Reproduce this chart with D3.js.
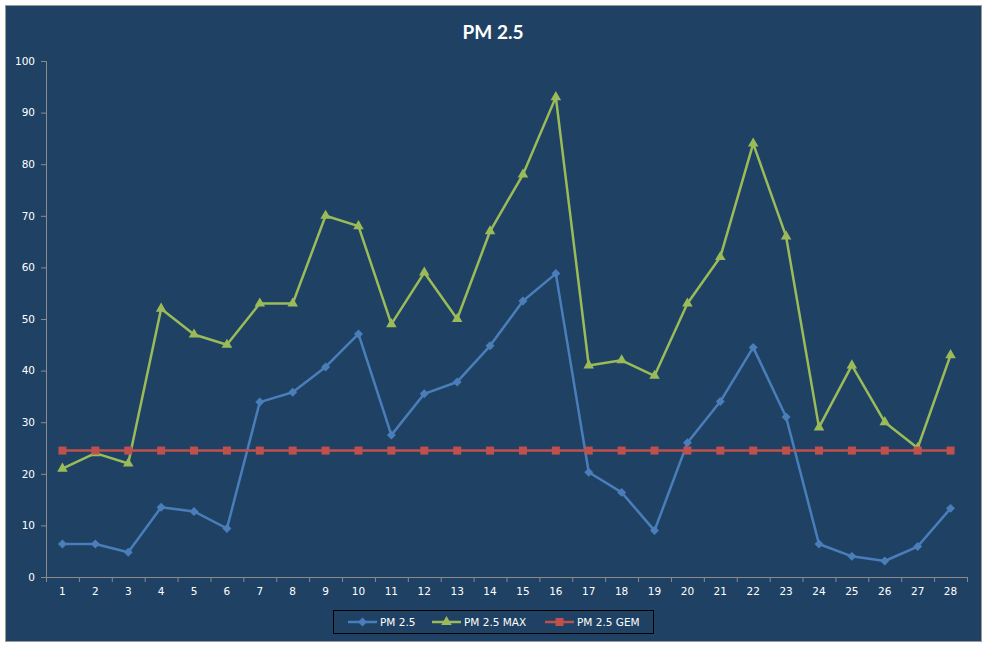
<!DOCTYPE html>
<html><head><meta charset="utf-8">
<script src="https://cdn.jsdelivr.net/npm/d3@7"></script>
<style>body{margin:0;background:#fff}</style>
</head><body>
<svg id="c" width="987" height="648"></svg>
<script>
const categories = d3.range(1, 29).map(String);
const pm25 = [6.4,6.4,4.8,13.5,12.7,9.4,33.9,35.8,40.7,47.1,27.5,35.5,37.8,44.8,53.5,58.8,20.3,16.4,9.0,26,34,44.5,31,6.4,4.0,3.1,5.9,13.3];
const pm25max = [21,24,22,52,47,45,53,53,70,68,49,59,50,67,78,93,41,42,39,53,62,84,66,29,41,30,25,43];
const pm25gem = categories.map(() => 24.5);
const yTicks = [0,10,20,30,40,50,60,70,80,90,100];
const seriesNames = ["PM 2.5", "PM 2.5 MAX", "PM 2.5 GEM"];

const svg = d3.select("#c");
const bg = "#1F4264";
svg.append("rect").attr("x",5.5).attr("y",5.5).attr("width",976).attr("height",636)
  .attr("fill",bg).attr("stroke","#9a9a9a").attr("stroke-width",1);

const x = d3.scaleBand().domain(categories).range([46, 967]);
const y = d3.scaleLinear().domain([0,100]).range([577, 61]);

svg.append("text").attr("x",493).attr("y",39).attr("text-anchor","middle")
  .attr("fill","#fff").attr("font-family","Lato, 'Open Sans', sans-serif")
  .attr("font-weight","bold").attr("font-size",19).text("PM 2.5");

const font = "'DejaVu Sans', Verdana, sans-serif";
const ya = svg.append("g").attr("transform","translate(46,0)")
  .call(d3.axisLeft(y).tickValues(yTicks).tickSize(5).tickPadding(6));
ya.select(".domain").attr("stroke","#8c8c8c");
ya.selectAll(".tick line").attr("stroke","#8c8c8c");
ya.selectAll("text").attr("fill","#fff").attr("font-family",font).attr("font-size",10.5);

const xa = svg.append("g").attr("transform","translate(0,577)")
  .call(d3.axisBottom(x).tickSize(0).tickPadding(11).tickSizeOuter(0));
xa.select(".domain").attr("stroke","#8c8c8c");
xa.selectAll("text").attr("fill","#fff").attr("font-family",font).attr("font-size",10.5);
const bounds = categories.map(c => x(c)).concat([x(categories[categories.length-1]) + x.bandwidth()]);
svg.append("g").selectAll("line").data(bounds).join("line")
  .attr("x1",d=>d+0.5).attr("x2",d=>d+0.5).attr("y1",577).attr("y2",582).attr("stroke","#8c8c8c");

const squareDiamond = {draw(ctx, size){ const r = Math.sqrt(size/2); ctx.moveTo(0,-r); ctx.lineTo(r,0); ctx.lineTo(0,r); ctx.lineTo(-r,0); ctx.closePath(); }};
const cx = c => x(c) + x.bandwidth()/2;
const series = [
  {name: seriesNames[0], vals: pm25, color: "#4A7EBB", sym: squareDiamond, size: 40},
  {name: seriesNames[1], vals: pm25max, color: "#9BBB59", sym: d3.symbolTriangle, size: 48},
  {name: seriesNames[2], vals: pm25gem, color: "#C0504D", sym: d3.symbolSquare, size: 64}
];
const line = d3.line().x((d,i)=>cx(categories[i])).y(d=>y(d));
series.forEach(s => {
  svg.append("path").datum(s.vals).attr("d",line).attr("fill","none")
    .attr("stroke",s.color).attr("stroke-width",2.5).attr("stroke-linejoin","round");
  svg.append("g").selectAll("path").data(s.vals).join("path")
    .attr("transform",(d,i)=>`translate(${cx(categories[i])},${y(d)})`)
    .attr("d", d3.symbol().type(s.sym).size(s.size)).attr("fill",s.color);
});

svg.append("rect").attr("x",333.5).attr("y",610.5).attr("width",320).attr("height",23)
  .attr("fill","none").attr("stroke","#000").attr("stroke-width",1);
const legX = [348, 432, 545];
series.forEach((s,i) => {
  const g = svg.append("g").attr("transform",`translate(${legX[i]},622)`);
  g.append("line").attr("x1",0).attr("x2",29).attr("stroke",s.color).attr("stroke-width",2.5);
  g.append("path").attr("transform","translate(14.5,0)").attr("d",d3.symbol().type(s.sym).size(s.size)).attr("fill",s.color);
  g.append("text").attr("x",32).attr("y",4).attr("fill","#fff").attr("font-family",font)
    .attr("font-size",10.5).text(s.name);
});
</script>
</body></html>
